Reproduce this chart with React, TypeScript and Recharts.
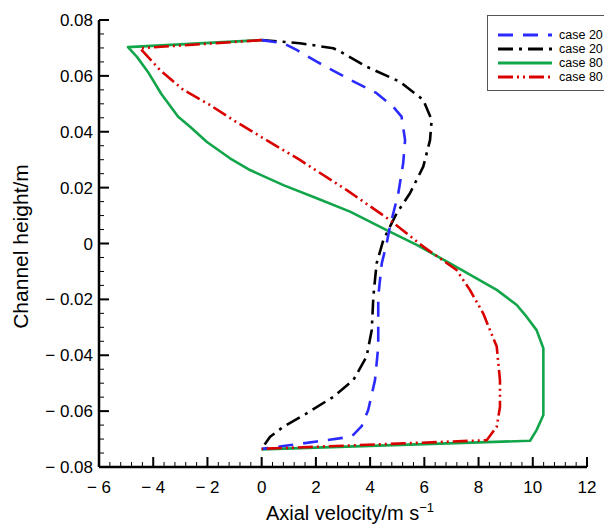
import { LineChart, Line, XAxis, YAxis, Legend, Label } from "recharts";

// axial velocity (m/s) and channel height (m) read along each profile, top wall to bottom wall
const case20DashVelocity = [0, 0.8, 1.29, 2.03, 3.26, 4.24, 4.85, 5.16, 5.29, 5.22, 5.04, 4.73, 4.61, 4.43, 4.3, 4.3, 4.18, 3.93, 3.69, 3.38, 3.26, 2.03, 0.8, 0];
const case20DashHeight = [0.0728, 0.0717, 0.0693, 0.0651, 0.0586, 0.0538, 0.049, 0.0454, 0.037, 0.0287, 0.018, 0.006, 0.0, -0.0071, -0.019, -0.0369, -0.0489, -0.0596, -0.0654, -0.0685, -0.0692, -0.0709, -0.0725, -0.0735];

const case20DotVelocity = [0, 1.41, 2.64, 2.89, 3.87, 5.1, 5.96, 6.27, 6.21, 5.96, 5.47, 4.98, 4.49, 4.24, 4.12, 4.06, 3.87, 3.38, 2.64, 1.66, 0.8, 0.31, 0];
const case20DotHeight = [0.0728, 0.0717, 0.0699, 0.0687, 0.0633, 0.0579, 0.0514, 0.0442, 0.037, 0.0275, 0.018, 0.0108, 0.0013, -0.0071, -0.019, -0.031, -0.0405, -0.0489, -0.0549, -0.0608, -0.0656, -0.0692, -0.0735];

const case80SolidVelocity = [0, -4.93, -4.6, -4.2, -3.7, -3.08, -2.64, -2.03, -1.17, -0.43, 0.8, 2.03, 3.26, 4.61, 5.72, 6.95, 8.67, 9.41, 9.77, 10.14, 10.39, 10.39, 10.14, 9.9, 0];
const case80SolidHeight = [0.0728, 0.0703, 0.0668, 0.0615, 0.0535, 0.0454, 0.0418, 0.0364, 0.0305, 0.0263, 0.0209, 0.0162, 0.0114, 0.0048, -0.0005, -0.0071, -0.0166, -0.022, -0.0262, -0.031, -0.0375, -0.0614, -0.0668, -0.0706, -0.0737];

const case80DotVelocity = [0, -4.49, -3.75, -2.89, -1.91, -1.05, 0.18, 1.41, 3.14, 4.73, 5.96, 7.19, 7.68, 8.17, 8.67, 8.79, 8.79, 8.67, 8.3, 0];
const case80DotHeight = [0.0728, 0.0699, 0.0621, 0.055, 0.0496, 0.0442, 0.037, 0.0299, 0.0191, 0.0084, -0.0011, -0.0095, -0.0166, -0.025, -0.0369, -0.0489, -0.0585, -0.0656, -0.0704, -0.0735];

const xMajorTicks = [-6, -4, -2, 0, 2, 4, 6, 8, 10, 12];
const yMajorTicks = [-0.08, -0.06, -0.04, -0.02, 0, 0.02, 0.04, 0.06, 0.08];

const toPoints = (vel: number[], hgt: number[]) => vel.map((v, i) => ({ v, h: hgt[i] }));

const withMinor = (majors: number[], parts: number) => {
  const out: number[] = [];
  for (let i = 0; i < majors.length - 1; i++) {
    const step = (majors[i + 1] - majors[i]) / parts;
    for (let k = 0; k < parts; k++) out.push(+(majors[i] + k * step).toFixed(6));
  }
  out.push(majors[majors.length - 1]);
  return out;
};

const isMajor = (v: number, majors: number[]) => majors.some((m) => Math.abs(m - v) < 1e-9);

const fmt = (v: number, digits: number) => {
  if (Math.abs(v) < 1e-9) return "0";
  const s = Math.abs(v).toFixed(digits);
  return v < 0 ? "\u2212 " + s : s;
};

const FONT = "'Liberation Sans', Arial, sans-serif";

const series = [
  { name: "case 20", color: "#2b2bff", dash: "15 10", data: toPoints(case20DashVelocity, case20DashHeight) },
  { name: "case 20", color: "#000000", dash: "15 6 3 6", data: toPoints(case20DotVelocity, case20DotHeight) },
  { name: "case 80", color: "#12a54a", dash: undefined, data: toPoints(case80SolidVelocity, case80SolidHeight) },
  { name: "case 80", color: "#d90000", dash: "15 4 2 4 2 4", data: toPoints(case80DotVelocity, case80DotHeight) },
];

const XTick = (props: any) => {
  const { x, y, payload } = props;
  const major = isMajor(payload.value, xMajorTicks);
  return (
    <g>
      <line x1={x} x2={x} y1={y} y2={y - (major ? 10 : 5)} stroke="#000" strokeWidth={major ? 2 : 1} />
      {major && (
        <text x={x} y={y + 26} textAnchor="middle" fontSize={17} fontFamily={FONT} fill="#000">
          {fmt(payload.value, 0)}
        </text>
      )}
    </g>
  );
};

const YTick = (props: any) => {
  const { x, y, payload } = props;
  const major = isMajor(payload.value, yMajorTicks);
  return (
    <g>
      <line x1={x} x2={x + (major ? 10 : 5)} y1={y} y2={y} stroke="#000" strokeWidth={major ? 2 : 1} />
      {major && (
        <text x={x - 6} y={y} dy="0.36em" textAnchor="end" fontSize={17} fontFamily={FONT} fill="#000">
          {fmt(payload.value, 2)}
        </text>
      )}
    </g>
  );
};

const LegendBox = () => (
  <div
    style={{
      border: "1px solid #555",
      borderRight: "none",
      background: "#fff",
      width: 117,
      height: 76,
      boxSizing: "border-box",
      paddingTop: 12,
      fontFamily: FONT,
      fontSize: 12.5,
    }}
  >
    {[0, 1, 2, 3].map((i) => {
      const s = series[i];
      return (
        <div key={i} style={{ display: "flex", alignItems: "center", height: 14 }}>
          <svg width={71} height={14} style={{ flex: "none" }}>
            <line x1={10} x2={64} y1={7} y2={7} stroke={s.color} strokeWidth={3} strokeDasharray={s.dash} />
          </svg>
          <span style={{ whiteSpace: "nowrap", lineHeight: "14px" }}>{s.name}</span>
        </div>
      );
    })}
  </div>
);

export default function App() {
  // draw order: green below, red on top
  const drawOrder = [2, 1, 0, 3];
  return (
    <div style={{ position: "absolute", left: 0, top: 0, width: 604, height: 526, overflow: "hidden", background: "#fff" }}>
      <LineChart width={604} height={526} margin={{ top: 20, right: 17, bottom: 0, left: 0 }}>
        <XAxis
          type="number"
          dataKey="v"
          domain={[-6, 12]}
          ticks={withMinor(xMajorTicks, 5)}
          interval={0}
          height={59}
          tickSize={0}
          tickMargin={0}
          tickLine={false}
          axisLine={{ stroke: "#000", strokeWidth: 2.5 }}
          tick={<XTick />}
        >
          <Label
            content={(p: any) => {
              const vb = p.viewBox || { x: 99, y: 467, width: 488, height: 59 };
              return (
                <text x={vb.x + vb.width / 2 + 7} y={vb.y + 53} textAnchor="middle" fontSize={20} fontFamily={FONT} fill="#000">
                  <tspan>Axial velocity/m s</tspan>
                  <tspan dy={-8} fontSize={13}>{"\u22121"}</tspan>
                </text>
              );
            }}
          />
        </XAxis>
        <YAxis
          type="number"
          domain={[-0.08, 0.08]}
          ticks={withMinor(yMajorTicks, 4)}
          interval={0}
          width={99}
          tickSize={0}
          tickMargin={0}
          tickLine={false}
          axisLine={{ stroke: "#000", strokeWidth: 2.5 }}
          tick={<YTick />}
        >
          <Label
            content={(p: any) => {
              const vb = p.viewBox || { x: 0, y: 20, width: 99, height: 447 };
              const cx = vb.x + 28;
              const cy = vb.y + vb.height / 2 + 3;
              return (
                <text x={cx} y={cy} transform={`rotate(-90 ${cx} ${cy})`} textAnchor="middle" fontSize={21} fontFamily={FONT} fill="#000">
                  Channel height/m
                </text>
              );
            }}
          />
        </YAxis>
        {drawOrder.map((i) => {
          const s = series[i];
          return (
            <Line
              key={i}
              data={s.data}
              dataKey="h"
              name={s.name}
              type="linear"
              stroke={s.color}
              strokeWidth={2.6}
              strokeDasharray={s.dash}
              strokeLinejoin="round"
              dot={false}
              activeDot={false}
              isAnimationActive={false}
            />
          );
        })}
        <Legend
          layout="horizontal"
          verticalAlign="middle"
          align="center"
          content={<LegendBox />}
          wrapperStyle={{ left: 487, top: 15, width: 117 }}
        />
      </LineChart>
    </div>
  );
}
